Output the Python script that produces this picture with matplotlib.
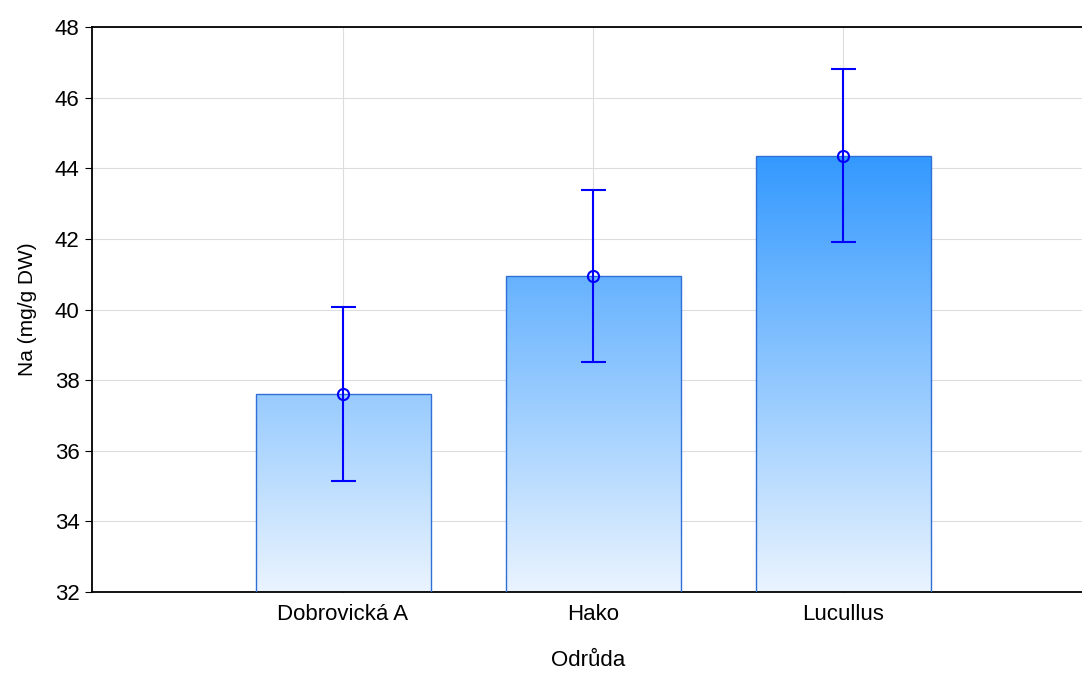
import numpy as np
import matplotlib.pyplot as plt
from matplotlib.colors import LinearSegmentedColormap

plt.rcParams['font.family'] = ['Liberation Sans', 'DejaVu Sans']

# data
varieties = ['Dobrovická A', 'Hako', 'Lucullus']
na_means = [37.61, 40.95, 44.36]
na_err = [2.47, 2.44, 2.45]

fig = plt.figure(figsize=(10.82, 6.75), dpi=100)
ax = fig.add_axes([92 / 1082, 1 - 592 / 675, 992 / 1082, 565 / 675])

x = np.arange(len(varieties))
ax.set_xlim(-1.004, 2.964)
ax.set_ylim(32, 48)

# gradient fill, light at bottom -> blue at the tallest bar
cmap = LinearSegmentedColormap.from_list('blu', ['#EAF4FE', '#3399FF'])
grad = np.linspace(0, 1, 256).reshape(-1, 1)
bars = ax.bar(x, na_means, width=0.7, bottom=0, color='none',
              edgecolor='#2F6FD6', linewidth=1.0, zorder=3)
for b in bars:
    img = ax.imshow(grad, cmap=cmap, aspect='auto', origin='lower',
                    extent=[-1.004, 2.964, 32, max(na_means)],
                    zorder=2, interpolation='bilinear')
    img.set_clip_path(b)

ax.errorbar(x, na_means, yerr=na_err, fmt='o', color='#0000FF', mfc='none',
            mec='#0000FF', ms=8, mew=1.5, elinewidth=1.5, capsize=9,
            capthick=1.5, zorder=4)

ax.set_xticks(x)
ax.set_xticklabels(varieties)
ax.set_yticks(np.arange(32, 49, 2))
ax.grid(True, color='#DDDDDD', linewidth=0.8, zorder=0)
ax.set_axisbelow(True)
ax.tick_params(axis='x', direction='in', length=5, labelsize=16, pad=9)
ax.tick_params(axis='y', direction='out', length=5, labelsize=16, pad=4)
for s in ['left', 'bottom', 'top']:
    ax.spines[s].set_linewidth(1.3)
ax.spines['right'].set_visible(False)

ax.set_xlabel('Odrůda', fontsize=16, labelpad=18)
ax.set_ylabel('Na (mg/g DW)', fontsize=15, labelpad=13)

fig.savefig('out.png', dpi=100)
